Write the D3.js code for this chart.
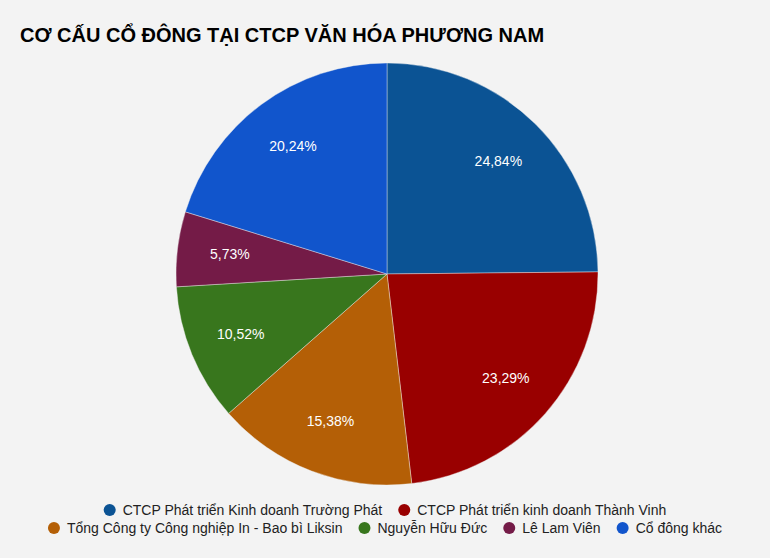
<!DOCTYPE html>
<html>
<head>
<meta charset="utf-8">
<script src="https://cdn.jsdelivr.net/npm/d3@7"></script>
<style>
  body { margin: 0; background: #f3f3f3; }
  svg { display: block; font-family: Arial, "Liberation Sans", sans-serif; }
</style>
</head>
<body>
<svg id="chart" width="770" height="558"></svg>
<script>
// du lieu co cau co dong
let names = [
  "CTCP Phát triển Kinh doanh Trường Phát",
  "CTCP Phát triển kinh doanh Thành Vinh",
  "Tổng Công ty Công nghiệp In - Bao bì Liksin",
  "Nguyễn Hữu Đức",
  "Lê Lam Viên",
  "Cổ đông khác"
];
let shares = [24.84, 23.29, 15.38, 10.52, 5.73, 20.24];
let colors = ["#0b5394", "#990000", "#b45f06", "#38761d", "#741b47", "#1155cc"];

let svg = d3.select("#chart");
let width = +svg.attr("width");

svg.append("rect").attr("width", 770).attr("height", 558).attr("fill", "#f3f3f3");

svg.append("text")
  .attr("x", 20)
  .attr("y", 42)
  .attr("font-size", 20)
  .attr("font-weight", "bold")
  .attr("fill", "#000")
  .text("CƠ CẤU CỔ ĐÔNG TẠI CTCP VĂN HÓA PHƯƠNG NAM");

let cx = 387, cy = 274, r = 211;

let pie = d3.pie().sort(null).value(function (d) { return d; });
let arc = d3.arc().innerRadius(0).outerRadius(r);
let labelArc = d3.arc().innerRadius(r * 0.75).outerRadius(r * 0.75);

let g = svg.append("g").attr("transform", "translate(" + cx + "," + cy + ")");

let slices = g.selectAll("g.slice")
  .data(pie(shares))
  .enter()
  .append("g")
  .attr("class", "slice");

slices.append("path")
  .attr("d", arc)
  .attr("fill", function (d, i) { return colors[i]; })
  .attr("stroke", "#f3f3f3")
  .attr("stroke-width", 0.4);

slices.append("text")
  .attr("transform", function (d) { return "translate(" + labelArc.centroid(d) + ")"; })
  .attr("text-anchor", "middle")
  .attr("dy", "0.3em")
  .attr("font-size", 14)
  .attr("fill", "#fff")
  .text(function (d) { return d.data.toFixed(2).replace(".", ",") + "%"; });

// legend, wrap thanh nhieu dong va can giua
let legend = svg.append("g").attr("font-size", 14).attr("fill", "#222");
let items = legend.selectAll("g.item")
  .data(names)
  .enter()
  .append("g")
  .attr("class", "item");

items.append("circle")
  .attr("r", 6)
  .attr("fill", function (d, i) { return colors[i]; });

items.append("text")
  .attr("x", 13)
  .attr("dy", "0.35em")
  .attr("fill", "#222")
  .text(function (d) { return d; });

let maxW = 700, gap = 16;
let rows = [[]], rowW = [0];
items.each(function (d, i) {
  let w = 19 + this.querySelector("text").getComputedTextLength();
  let k = rows.length - 1;
  let add = rows[k].length ? gap + w : w;
  if (rowW[k] + add > maxW && rows[k].length) {
    rows.push([]); rowW.push(0); k++; add = w;
  }
  rows[k].push({ node: this, w: w });
  rowW[k] += add;
});

rows.forEach(function (row, k) {
  let x = (width - rowW[k]) / 2 + 6;
  row.forEach(function (it) {
    d3.select(it.node).attr("transform", "translate(" + x + "," + (510 + k * 18) + ")");
    x += it.w + gap;
  });
});
</script>
</body>
</html>
